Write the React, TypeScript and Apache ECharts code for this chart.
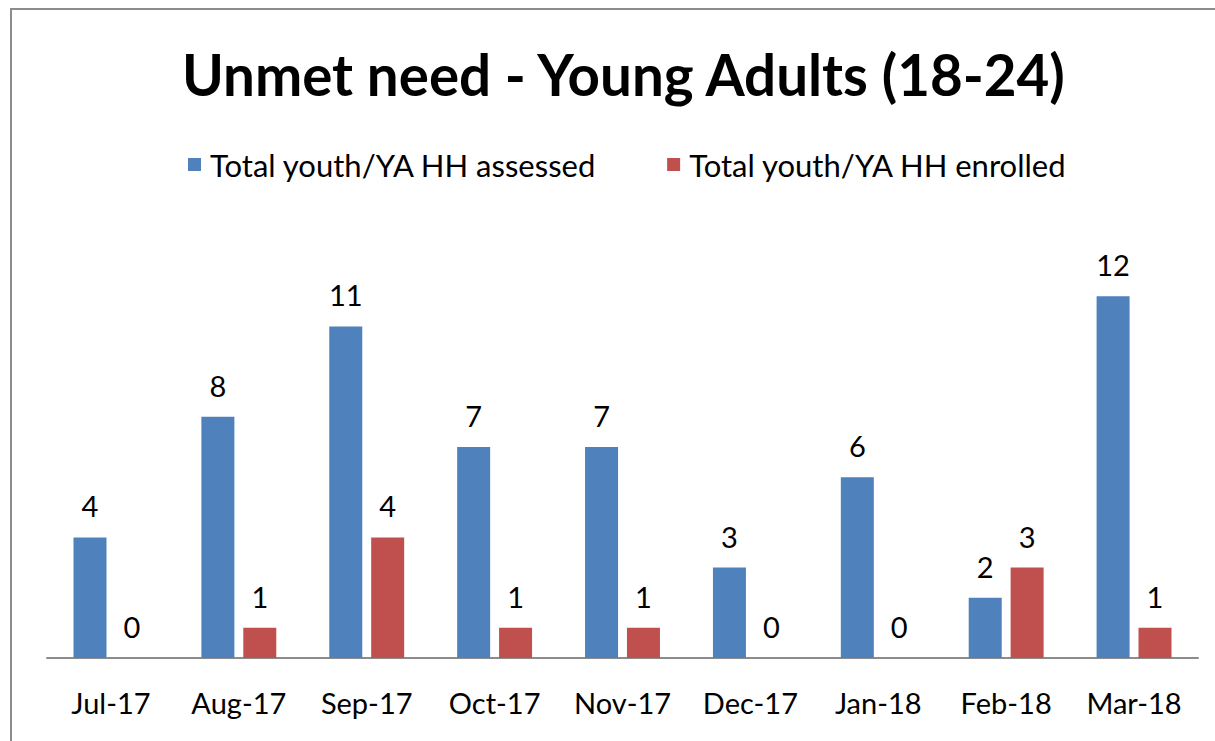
import React, { useEffect, useRef } from "react";
import * as echarts from "echarts";

const categories = ["Jul-17", "Aug-17", "Sep-17", "Oct-17", "Nov-17", "Dec-17", "Jan-18", "Feb-18", "Mar-18"];
const assessed = [4, 8, 11, 7, 7, 3, 6, 2, 12];
const enrolled = [0, 1, 4, 1, 1, 0, 0, 3, 1];
const seriesNames = ["Total youth/YA HH assessed", "Total youth/YA HH enrolled"];
const titleText = "Unmet need - Young Adults (18-24)";

const FONT = "Lato, 'Open Sans', sans-serif";

export default function App() {
  const ref = useRef<HTMLDivElement>(null);
  useEffect(() => {
    if (!ref.current) return;
    const chart = echarts.init(ref.current, undefined, { renderer: "svg" });
    const labelStyle = {
      show: true,
      position: "top",
      distance: 17,
      fontSize: 29,
      fontFamily: FONT,
      color: "#000",
    };
    chart.setOption({
      animation: false,
      backgroundColor: "#fff",
      title: {
        text: titleText,
        left: 177,
        top: 40,
        textStyle: { fontSize: 56.5, fontWeight: "bold", fontFamily: FONT, color: "#000" },
      },
      legend: {
        top: 144,
        left: 183,
        itemGap: 70,
        itemWidth: 13,
        itemHeight: 13,
        icon: "rect",
        textStyle: { fontSize: 31, fontFamily: FONT, color: "#000", padding: [0, 0, 0, 4] },
        data: seriesNames,
      },
      graphic: [
        {
          type: "rect",
          shape: { x: 11, y: 9, width: 1250, height: 800 },
          style: { fill: "none", stroke: "#8c8c8c", lineWidth: 2 },
          silent: true,
        },
      ],
      grid: { left: 47, right: 17, top: 236, bottom: 83 },
      xAxis: {
        type: "category",
        data: categories,
        axisLine: { lineStyle: { color: "#8c8c8c", width: 2 } },
        axisTick: { show: false },
        axisLabel: { fontSize: 29, fontFamily: FONT, color: "#000", margin: 30 },
      },
      yAxis: {
        type: "value",
        min: 0,
        max: 14,
        show: false,
        splitLine: { show: false },
      },
      series: [
        {
          name: seriesNames[0],
          type: "bar",
          data: assessed,
          barWidth: 33,
          barGap: "27%",
          itemStyle: { color: "#4F81BD" },
          label: labelStyle,
        },
        {
          name: seriesNames[1],
          type: "bar",
          data: enrolled,
          barWidth: 33,
          barGap: "27%",
          itemStyle: { color: "#C0504D" },
          label: labelStyle,
        },
      ],
    });
    return () => chart.dispose();
  }, []);
  return <div ref={ref} style={{ position: "fixed", left: 0, top: 0, width: 1215, height: 741 }} />;
}
